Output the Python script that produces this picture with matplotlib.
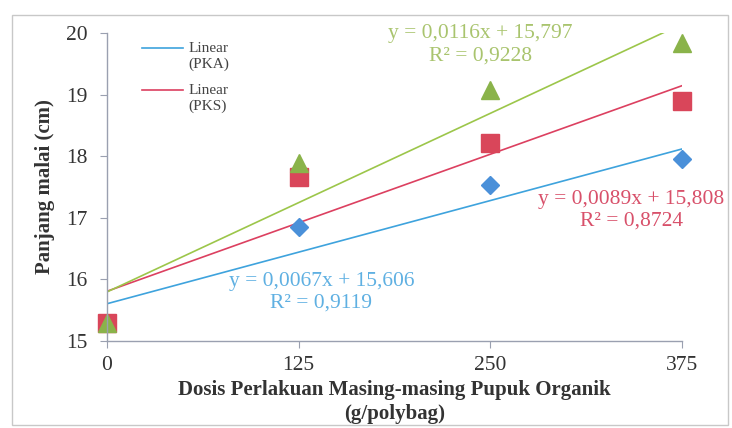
import numpy as np
import matplotlib
matplotlib.use("Agg")
import matplotlib.pyplot as plt
from matplotlib.patches import Rectangle

# data
dosis = [0, 125, 250, 375]
pka = [15.30, 16.85, 17.53, 17.96]
pks = [15.30, 17.66, 18.21, 18.89]
pkg = [15.30, 17.89, 19.07, 19.83]

# trendline coefficients shown on the chart (slope, intercept, R2)
fit_pka = (0.0067, 15.606, 0.9119)
fit_pks = (0.0089, 15.808, 0.8724)
fit_pkg = (0.0116, 15.797, 0.9228)

yticks = [15, 16, 17, 18, 19, 20]
legend_labels = ['Linear\n(PKA)', 'Linear\n(PKS)']

plt.rcParams['font.family'] = ['Liberation Serif', 'DejaVu Serif']

fig = plt.figure(figsize=(7.32, 4.28), dpi=100)
fig.patch.set_facecolor('white')
# outer chart frame
fig.patches.append(Rectangle((0.016, 0.007), 0.978, 0.958, transform=fig.transFigure,
                             fill=False, edgecolor='#c8c8c8', linewidth=1.0))

ax = fig.add_axes([0.146, 0.203, 0.786, 0.72])

blue_m, blue_l, blue_t = '#4a90d9', '#3ea3dd', '#5fb0e2'
red_m, red_l, red_t = '#d9465a', '#dc4060', '#d8506a'
green_m, green_l, green_t = '#8ab34a', '#9cc64a', '#a9c46e'

xs = np.array([0, 375])
ax.plot(xs, fit_pka[0] * xs + fit_pka[1], color=blue_l, lw=1.2)
ax.plot(xs, fit_pks[0] * xs + fit_pks[1], color=red_l, lw=1.2)
ax.plot(xs, fit_pkg[0] * xs + fit_pkg[1], color=green_l, lw=1.2)

ax.plot(dosis, pka, linestyle='none', marker='D', markersize=9.5, color=blue_m, clip_on=False)
ax.plot(dosis, pks, linestyle='none', marker='s', markersize=12.5, color=red_m, clip_on=False)
ax.plot(dosis, pkg, linestyle='none', marker='^', markersize=13, color=green_m, clip_on=False)

ax.set_xlim(0, 375)
ax.set_ylim(15, 20)
ax.set_xticks(dosis)
ax.set_yticks(yticks)
ax.tick_params(axis='both', labelsize=15.5, color='#9aa0b0', length=5, labelcolor='#333333')
ax.tick_params(axis='y', pad=9)
ax.tick_params(axis='x', pad=6)
for s in ['top', 'right']:
    ax.spines[s].set_visible(False)
for s in ['left', 'bottom']:
    ax.spines[s].set_color('#9aa0b0')
    ax.spines[s].set_linewidth(1.0)

ax.set_ylabel('Panjang malai (cm)', fontsize=15, fontweight='bold', color='#333333', labelpad=8)
ax.set_xlabel('Dosis Perlakuan Masing-masing Pupuk Organik\n(g/polybag)', fontsize=15,
              fontweight='bold', color='#333333', labelpad=3, linespacing=1.3)

def eq(fit):
    a, b, r2 = fit
    return ('y = ' + f'{a:.4f}'.replace('.', ',') + 'x + ' + f'{b:.3f}'.replace('.', ',') +
            '\nR² = ' + f'{r2:.4f}'.replace('.', ','))

ax.text(0.649, 0.962, eq(fit_pkg), transform=ax.transAxes, ha='center', va='center',
        fontsize=15.5, color=green_t, linespacing=1.2)
ax.text(0.912, 0.425, eq(fit_pks), transform=ax.transAxes, ha='center', va='center',
        fontsize=15.5, color=red_t, linespacing=1.2)
ax.text(0.373, 0.158, eq(fit_pka), transform=ax.transAxes, ha='center', va='center',
        fontsize=15.5, color=blue_t, linespacing=1.2)

# legend drawn by hand: line sits next to the first text line
for lab, col, yl in zip(legend_labels, [blue_l, red_l], [0.951, 0.815]):
    ax.plot([0.061, 0.132], [yl, yl], color=col, lw=1.2, transform=ax.transAxes)
    ax.text(0.142, yl + 0.02, lab, transform=ax.transAxes, ha='left', va='top',
            fontsize=11, color='#444444', linespacing=1.3)

fig.savefig('out.png', dpi=100)
